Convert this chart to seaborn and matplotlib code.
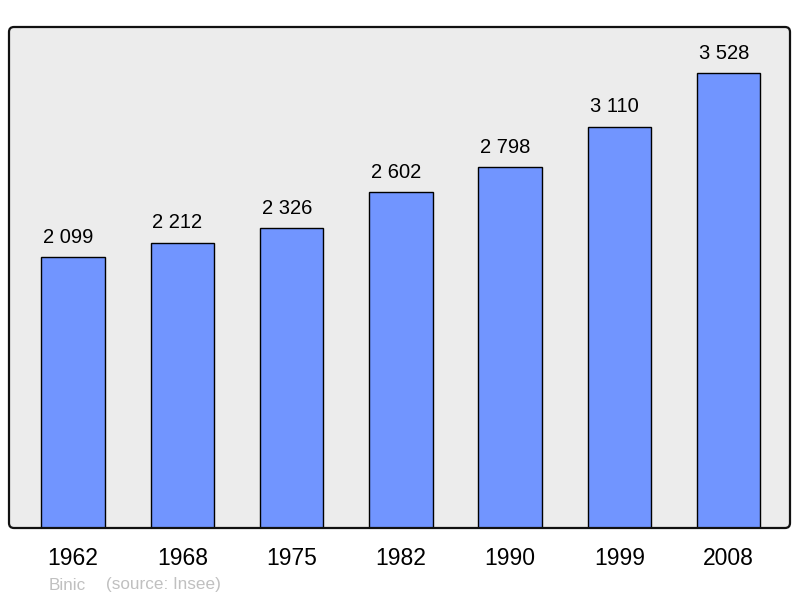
import matplotlib
matplotlib.use("Agg")
import matplotlib.pyplot as plt
from matplotlib.patches import FancyBboxPatch
from matplotlib.transforms import IdentityTransform
import seaborn as sns
import pandas as pd

years = ["1962", "1968", "1975", "1982", "1990", "1999", "2008"]
population = [2099, 2212, 2326, 2602, 2798, 3110, 3528]
place = "Binic"
source = "(source: Insee)"

sns.set_style("white")
plt.rcParams["font.family"] = ["Liberation Sans", "DejaVu Sans"]
plt.rcParams["text.color"] = "black"
plt.rcParams["xtick.color"] = "black"

df = pd.DataFrame({"year": years, "pop": population})

fig = plt.figure(figsize=(8, 5.98), dpi=100)
ax = fig.add_axes([9 / 800, 70 / 598, 781 / 800, 501 / 598])
ax.set_facecolor("#ececec")

sns.barplot(data=df, x="year", y="pop", color="#7195ff", saturation=1,
            width=0.58, edgecolor="black", linewidth=1, ax=ax)

# value labels sit a little left of the bar centre, as in the original
for bar, v in zip(ax.containers[0], population):
    cx = bar.get_x() + bar.get_width() / 2
    ax.annotate("{:,}".format(v).replace(",", " "), xy=(cx, v),
                xytext=(-3.5, 7.5), textcoords="offset points",
                ha="center", va="bottom", fontsize=14.5, color="black")

ax.set_xlim(-0.585, 6.56)
ax.set_ylim(0, 3884)
ax.set_xlabel("")
ax.set_ylabel("")
ax.set_yticks([])
ax.tick_params(axis="x", length=0, pad=13.5, labelsize=16.5, labelcolor="black")
for s in ax.spines.values():
    s.set_visible(False)

frame = FancyBboxPatch((9, 70), 781, 501,
                       boxstyle="round,pad=0,rounding_size=5",
                       transform=IdentityTransform(), fill=False,
                       edgecolor="#111111", linewidth=1.6, zorder=10)
fig.patches.append(frame)
frame.set_figure(fig)

fig.text(49 / 800, 13 / 598, place, fontsize=12.3, color="#c0c0c0",
         va="center")
fig.text(106 / 800, 13 / 598, source, fontsize=12.3, color="#c0c0c0",
         va="center")

fig.savefig("out.png", dpi=100)
